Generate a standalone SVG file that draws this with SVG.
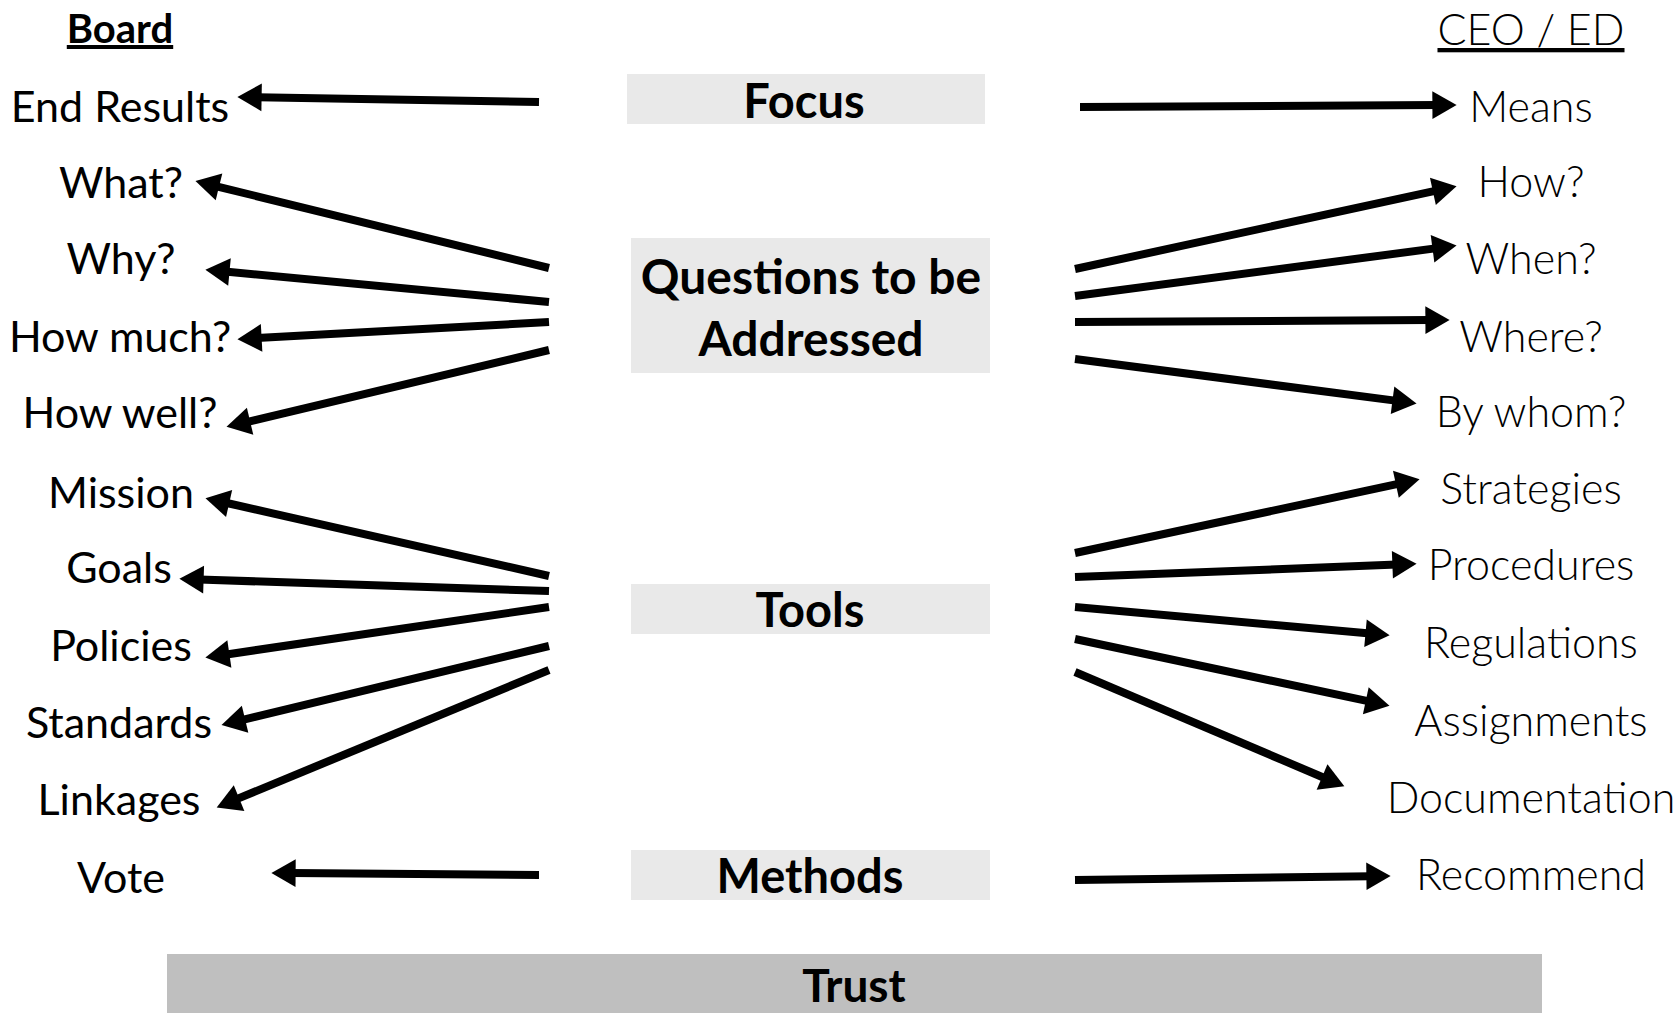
<svg xmlns="http://www.w3.org/2000/svg" width="1679" height="1013" viewBox="0 0 1679 1013">
<style>
.l{font-family:Lato,"Liberation Sans",sans-serif;font-size:43px;fill:#000;text-anchor:middle}
.r{font-family:Lato,"Liberation Sans",sans-serif;font-weight:300;font-size:43px;fill:#000;text-anchor:middle}
.c{font-family:Lato,"Liberation Sans",sans-serif;font-weight:700;font-size:47px;fill:#000;text-anchor:middle}
.box{fill:#e9e9e9}
.a{stroke:#000;stroke-width:8;fill:none;marker-end:url(#ah)}
</style>
<defs>
<marker id="ah" markerUnits="userSpaceOnUse" markerWidth="30" markerHeight="30" viewBox="-2 -13 26 26" refX="4" refY="0" orient="auto">
<path d="M0,-12 L21,0 L0,12 z" fill="#000"/>
</marker>
</defs>
<rect width="1679" height="1013" fill="#fff"/>
<g id="header-board"><text class="c" style="font-size:40px" x="120" y="43" text-decoration="underline">Board</text></g>
<g id="header-ceo"><text class="r" x="1531" y="45" text-decoration="underline">CEO / ED</text></g>

<g id="focus"><rect class="box" x="627" y="74" width="358" height="50"/><text class="c" x="804" y="118">Focus</text></g>
<g id="questions"><rect class="box" x="631" y="238" width="359" height="135"/><text class="c" style="font-size:48px" x="811" y="294">Questions to be</text><text class="c" style="font-size:48px" x="811" y="356">Addressed</text></g>
<g id="tools"><rect class="box" x="631" y="584" width="359" height="50"/><text class="c" x="810" y="627">Tools</text></g>
<g id="methods"><rect class="box" x="631" y="850" width="359" height="50"/><text class="c" x="810" y="893">Methods</text></g>
<g id="trust"><rect x="167" y="954" width="1375" height="59" fill="#bfbfbf"/><text class="c" style="font-size:46px" x="854" y="1002">Trust</text></g>

<g id="board-items">
<text class="l" x="120" y="122">End Results</text>
<text class="l" x="121" y="198">What?</text>
<text class="l" x="121" y="274">Why?</text>
<text class="l" x="120" y="352">How much?</text>
<text class="l" x="120" y="428">How well?</text>
<text class="l" x="121" y="508">Mission</text>
<text class="l" x="119" y="583">Goals</text>
<text class="l" x="121" y="661">Policies</text>
<text class="l" x="119" y="738">Standards</text>
<text class="l" x="119" y="815">Linkages</text>
<text class="l" x="121" y="893">Vote</text>
</g>
<g id="ceo-items">
<text class="r" x="1531" y="122">Means</text>
<text class="r" x="1531" y="197">How?</text>
<text class="r" x="1531" y="274">When?</text>
<text class="r" x="1531" y="352">Where?</text>
<text class="r" x="1531" y="427">By whom?</text>
<text class="r" x="1531" y="504">Strategies</text>
<text class="r" x="1531" y="580">Procedures</text>
<text class="r" x="1531" y="658">Regulations</text>
<text class="r" x="1531" y="736">Assignments</text>
<text class="r" x="1531" y="813">Documentation</text>
<text class="r" x="1531" y="890">Recommend</text>
</g>

<g id="connectors">
<line class="a" x1="539" y1="102" x2="257" y2="97.3"/>
<line class="a" x1="549" y1="268" x2="214.5" y2="185.8"/>
<line class="a" x1="549" y1="302" x2="224.9" y2="271.5"/>
<line class="a" x1="549" y1="322" x2="257" y2="338.1"/>
<line class="a" x1="549" y1="350" x2="245.6" y2="422.3"/>
<line class="a" x1="549" y1="576" x2="224.6" y2="502.5"/>
<line class="a" x1="549" y1="591" x2="199" y2="579.5"/>
<line class="a" x1="549" y1="607" x2="224.8" y2="654.7"/>
<line class="a" x1="549" y1="646" x2="240.6" y2="720.3"/>
<line class="a" x1="549" y1="670" x2="234.8" y2="799.9"/>
<line class="a" x1="539" y1="875" x2="291" y2="873.1"/>

<line class="a" x1="1080" y1="107" x2="1437" y2="105.1"/>
<line class="a" x1="1075" y1="269" x2="1437.4" y2="190.4"/>
<line class="a" x1="1075" y1="296" x2="1437.1" y2="248.1"/>
<line class="a" x1="1075" y1="322" x2="1430" y2="320.1"/>
<line class="a" x1="1075" y1="359" x2="1397.1" y2="400.9"/>
<line class="a" x1="1075" y1="553" x2="1400.4" y2="483.3"/>
<line class="a" x1="1075" y1="577" x2="1397" y2="564.6"/>
<line class="a" x1="1075" y1="607" x2="1370.1" y2="633.6"/>
<line class="a" x1="1075" y1="639" x2="1370.3" y2="701.7"/>
<line class="a" x1="1075" y1="672" x2="1326.3" y2="778.7"/>
<line class="a" x1="1075" y1="880" x2="1371" y2="876.2"/>
</g>
</svg>
